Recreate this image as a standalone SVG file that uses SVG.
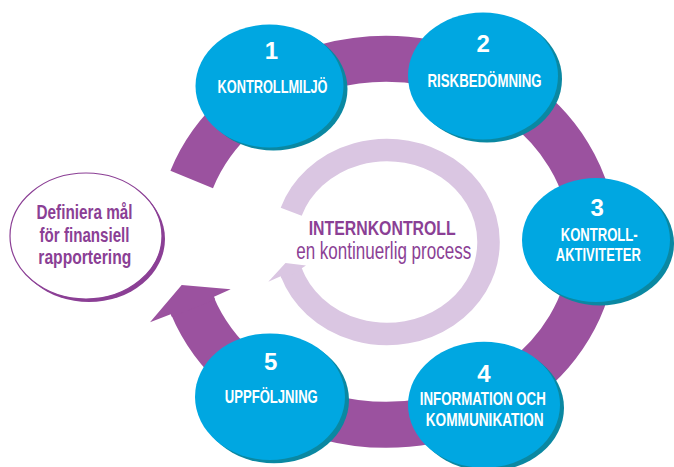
<svg xmlns="http://www.w3.org/2000/svg" width="674" height="467" viewBox="0 0 674 467">
<defs>
<style>
.ring{fill:none;stroke:#9b529f;stroke-width:46}
.ringhead{fill:#9b529f}
.inner{fill:none;stroke:#dac6e2;stroke-width:22.5}
.innerhead{fill:#dac6e2}
.blob{fill:#00a7e1}
.shadow{fill:#0a88a2}
.num{font-family:"Liberation Sans",Arial,sans-serif;font-weight:bold;font-size:24px;fill:#ffffff;text-anchor:middle}
.lbl{font-family:"Liberation Sans",Arial,sans-serif;font-weight:bold;font-size:18.5px;fill:#ffffff;text-anchor:middle}
.goal{font-family:"Liberation Sans",Arial,sans-serif;font-weight:bold;font-size:21px;fill:#8b3f95;text-anchor:middle}
.title{font-family:"Liberation Sans",Arial,sans-serif;font-weight:bold;font-size:21px;fill:#8b3f95;text-anchor:middle}
.sub{font-family:"Liberation Sans",Arial,sans-serif;font-size:23px;fill:#8b3f95;text-anchor:middle}
</style>
</defs>
<rect width="674" height="467" fill="#ffffff"/>
<g id="connectors">
<path class="ring" d="M 191.7 179.5 A 207 183 0 1 1 192.3 305.5"/>
<polygon class="ringhead" points="214,296.7 230.7,289.3 181.7,285 150,322.3 170.7,314.3 171.9,317.1 215.2,299.5"/>
<path class="inner" d="M 291.2 211.7 A 101.5 92 0 1 1 291.2 272.3"/>
<polygon class="innerhead" points="301.7,268.3 306,265.5 285.5,263 268.3,281.7 280.7,276.3 281.4,278.2 302.4,270.2"/>
</g>
<g id="center">
<text class="title" x="382.2" y="235" textLength="147" lengthAdjust="spacingAndGlyphs">INTERNKONTROLL</text>
<text class="sub" x="383.7" y="259.3" textLength="175" lengthAdjust="spacingAndGlyphs">en kontinuerlig process</text>
</g>
<g id="goal">
<ellipse cx="89" cy="239" rx="76" ry="63" fill="#8b3f95"/>
<ellipse cx="86" cy="236" rx="76" ry="63" fill="#ffffff" stroke="#8b3f95" stroke-width="1.2"/>
<text class="goal" x="84.5" y="218.5" textLength="96" lengthAdjust="spacingAndGlyphs">Definiera mål</text>
<text class="goal" x="84.5" y="241.5" textLength="90" lengthAdjust="spacingAndGlyphs">för finansiell</text>
<text class="goal" x="84.8" y="263.5" textLength="93" lengthAdjust="spacingAndGlyphs">rapportering</text>
</g>
<g id="node1">
<ellipse class="shadow" cx="273.5" cy="89" rx="74" ry="61.5"/>
<ellipse class="blob" cx="269.5" cy="86" rx="74" ry="61.5"/>
<text class="num" x="271.5" y="59.3">1</text>
<text class="lbl" x="272.5" y="92.7" textLength="110" lengthAdjust="spacingAndGlyphs">KONTROLLMILJÖ</text>
</g>
<g id="node2">
<ellipse class="shadow" cx="487" cy="79" rx="75" ry="63.5"/>
<ellipse class="blob" cx="483" cy="76" rx="75" ry="63.5"/>
<text class="num" x="483.3" y="51.7">2</text>
<text class="lbl" x="484.5" y="87.3" textLength="114" lengthAdjust="spacingAndGlyphs">RISKBEDÖMNING</text>
</g>
<g id="node3">
<ellipse class="shadow" cx="600" cy="243.5" rx="74" ry="62"/>
<ellipse class="blob" cx="596" cy="240" rx="74" ry="62"/>
<text class="num" x="597.3" y="215.7">3</text>
<text class="lbl" x="599.2" y="240.7" textLength="77" lengthAdjust="spacingAndGlyphs">KONTROLL-</text>
<text class="lbl" x="598.3" y="260.7" textLength="85" lengthAdjust="spacingAndGlyphs">AKTIVITETER</text>
</g>
<g id="node4">
<ellipse class="shadow" cx="488" cy="408" rx="76" ry="63"/>
<ellipse class="blob" cx="484" cy="404.7" rx="76" ry="63"/>
<text class="num" x="484" y="381.7">4</text>
<text class="lbl" x="482.8" y="405" textLength="126" lengthAdjust="spacingAndGlyphs">INFORMATION OCH</text>
<text class="lbl" x="484.7" y="426" textLength="118" lengthAdjust="spacingAndGlyphs">KOMMUNIKATION</text>
</g>
<g id="node5">
<ellipse class="shadow" cx="274" cy="400" rx="75" ry="63.3"/>
<ellipse class="blob" cx="270" cy="396.7" rx="75" ry="63.3"/>
<text class="num" x="270.7" y="370">5</text>
<text class="lbl" x="271.3" y="403.3" textLength="93" lengthAdjust="spacingAndGlyphs">UPPFÖLJNING</text>
</g>
</svg>
